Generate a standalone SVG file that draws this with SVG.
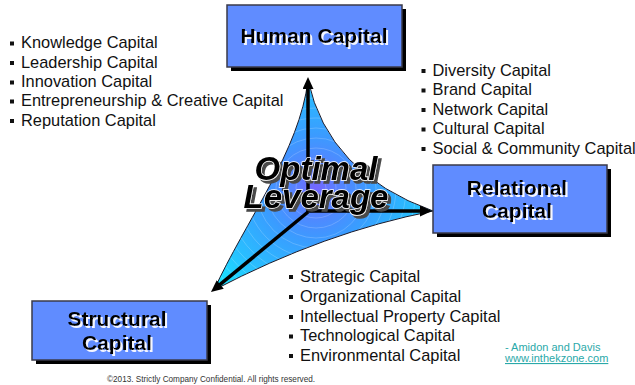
<svg xmlns="http://www.w3.org/2000/svg" width="635" height="385" viewBox="0 0 635 385">
  <defs>
    <style>
      .box { fill: #608cff; stroke: #3a3a4a; stroke-width: 1.5; }
      .boxshadow { fill: #000; }
      .label { font-family: "Liberation Sans", Arial, sans-serif; font-weight: bold; font-size: 21px; text-anchor: middle; fill: #000; filter: url(#glow); }
      .item { font-family: "Liberation Sans", Arial, sans-serif; font-size: 16.4px; fill: #111; }
      .dot { fill: #111; }
      .arrow { stroke: #000; stroke-width: 3.5; fill: none; marker-end: url(#head); }
      .big { font-family: "Liberation Sans", Arial, sans-serif; font-weight: bold; font-style: italic; font-size: 33px; text-anchor: middle; fill: #000; stroke: #fff; stroke-width: 1.4; paint-order: stroke; filter: url(#shade); }
      .ring { fill: none; stroke: #ffffff; stroke-opacity: 0.28; stroke-width: 0.7; }
      .credit { font-family: "Liberation Sans", Arial, sans-serif; font-size: 11px; fill: #2aa9a9; }
      .foot { font-family: "Liberation Sans", Arial, sans-serif; font-size: 8.2px; fill: #333; }
    </style>
    <radialGradient id="core" gradientUnits="userSpaceOnUse" cx="316" cy="188" r="135">
      <stop offset="0" stop-color="#7466ff"/>
      <stop offset="0.15" stop-color="#5a80ff"/>
      <stop offset="0.4" stop-color="#3a9cff"/>
      <stop offset="0.75" stop-color="#28c0ff"/>
      <stop offset="1" stop-color="#18e2ff"/>
    </radialGradient>
    <!-- dark drop shadow behind the centre caption -->
    <filter id="shade" x="-10%" y="-20%" width="130%" height="150%">
      <feOffset in="SourceAlpha" dx="3" dy="3" result="off"/>
      <feFlood flood-color="#4a4a4a"/>
      <feComposite in2="off" operator="in" result="sh"/>
      <feMerge>
        <feMergeNode in="sh"/>
        <feMergeNode in="SourceGraphic"/>
      </feMerge>
    </filter>
    <!-- light offset behind the box labels -->
    <filter id="glow" x="-10%" y="-20%" width="130%" height="150%">
      <feOffset in="SourceAlpha" dx="1.5" dy="1.5" result="off"/>
      <feFlood flood-color="#f4f6ff"/>
      <feComposite in2="off" operator="in" result="sh"/>
      <feMerge>
        <feMergeNode in="sh"/>
        <feMergeNode in="SourceGraphic"/>
      </feMerge>
    </filter>
    <clipPath id="blade">
      <path d="M308,80 Q328,173 433,211 Q325,232 214,290 C245,222 300,150 308,80 Z"/>
    </clipPath>
    <marker id="head" viewBox="0 0 12 11" refX="6" refY="5.5" markerWidth="12" markerHeight="11" markerUnits="userSpaceOnUse" orient="auto">
      <path d="M0,0 L12,5.5 L0,11 Z" fill="#000"/>
    </marker>
  </defs>

  <rect width="635" height="385" fill="#ffffff"/>

  <!-- curved three-pointed centre shape -->
  <g id="leverage-shape">
    <path d="M308,80 Q328,173 433,211 Q325,232 214,290 C245,222 300,150 308,80 Z" fill="url(#core)" stroke="#1a1a2a" stroke-width="1"/>
    <g clip-path="url(#blade)">
      <circle class="ring" cx="316" cy="188" r="10"/>
      <circle class="ring" cx="316" cy="188" r="20"/>
      <circle class="ring" cx="316" cy="188" r="30"/>
      <circle class="ring" cx="316" cy="188" r="40"/>
      <circle class="ring" cx="316" cy="188" r="50"/>
      <circle class="ring" cx="316" cy="188" r="60"/>
      <circle class="ring" cx="316" cy="188" r="70"/>
      <circle class="ring" cx="316" cy="188" r="80"/>
      <circle class="ring" cx="316" cy="188" r="90"/>
      <circle class="ring" cx="316" cy="188" r="100"/>
      <circle class="ring" cx="316" cy="188" r="110"/>
      <circle class="ring" cx="316" cy="188" r="120"/>
      <circle class="ring" cx="316" cy="188" r="130"/>
    </g>
  </g>

  <!-- arrows from the centre to the three capitals -->
  <g id="connectors">
    <line class="arrow" x1="308" y1="212" x2="308" y2="83"/>
    <line class="arrow" x1="308" y1="211" x2="426" y2="211"/>
    <line class="arrow" x1="308" y1="212" x2="215.6" y2="288.2"/>
  </g>

  <g id="human-capital">
    <rect class="boxshadow" x="231" y="9" width="175" height="62"/>
    <rect class="box" x="227" y="5" width="175" height="62"/>
    <text class="label" x="314" y="43">Human Capital</text>
  </g>

  <g id="relational-capital">
    <rect class="boxshadow" x="437" y="169" width="174" height="68"/>
    <rect class="box" x="433" y="165" width="174" height="68"/>
    <text class="label" x="517" y="195">Relational</text>
    <text class="label" x="517" y="218">Capital</text>
  </g>

  <g id="structural-capital">
    <rect class="boxshadow" x="36" y="305" width="175" height="59"/>
    <rect class="box" x="32" y="301" width="175" height="59"/>
    <text class="label" x="117" y="326">Structural</text>
    <text class="label" x="117" y="350">Capital</text>
  </g>

  <!-- human capital list -->
  <g id="human-list">
    <rect class="dot" x="10" y="41.5" width="4" height="4"/>
    <text class="item" x="21" y="48.3">Knowledge Capital</text>
    <rect class="dot" x="10" y="61" width="4" height="4"/>
    <text class="item" x="21" y="67.7">Leadership Capital</text>
    <rect class="dot" x="10" y="80.5" width="4" height="4"/>
    <text class="item" x="21" y="87.1">Innovation Capital</text>
    <rect class="dot" x="10" y="99.5" width="4" height="4"/>
    <text class="item" x="21" y="106.3">Entrepreneurship &amp; Creative Capital</text>
    <rect class="dot" x="10" y="119" width="4" height="4"/>
    <text class="item" x="21" y="125.7">Reputation Capital</text>
  </g>

  <!-- relational capital list -->
  <g id="relational-list">
    <rect class="dot" x="421.5" y="69" width="4" height="4"/>
    <text class="item" x="432.5" y="75.5">Diversity Capital</text>
    <rect class="dot" x="421.5" y="88.5" width="4" height="4"/>
    <text class="item" x="432.5" y="95">Brand Capital</text>
    <rect class="dot" x="421.5" y="108" width="4" height="4"/>
    <text class="item" x="432.5" y="114.5">Network Capital</text>
    <rect class="dot" x="421.5" y="127.5" width="4" height="4"/>
    <text class="item" x="432.5" y="134">Cultural Capital</text>
    <rect class="dot" x="421.5" y="147" width="4" height="4"/>
    <text class="item" x="432.5" y="153.5">Social &amp; Community Capital</text>
  </g>

  <!-- structural capital list -->
  <g id="structural-list">
    <rect class="dot" x="289" y="275" width="4" height="4"/>
    <text class="item" x="300" y="281.7">Strategic Capital</text>
    <rect class="dot" x="289" y="295" width="4" height="4"/>
    <text class="item" x="300" y="301.7">Organizational Capital</text>
    <rect class="dot" x="289" y="315" width="4" height="4"/>
    <text class="item" x="300" y="321.7">Intellectual Property Capital</text>
    <rect class="dot" x="289" y="334.5" width="4" height="4"/>
    <text class="item" x="300" y="341.2">Technological Capital</text>
    <rect class="dot" x="289" y="354" width="4" height="4"/>
    <text class="item" x="300" y="360.7">Environmental Capital</text>
  </g>

  <!-- centre caption -->
  <g id="optimal-leverage">
    <text class="big" x="316" y="180">Optimal</text>
    <text class="big" x="316" y="208">Leverage</text>
  </g>

  <g id="credit">
    <text class="credit" x="505" y="351">- Amidon and Davis</text>
    <text class="credit" x="505" y="362" fill="#1f9a9a" text-decoration="underline">www.inthekzone.com</text>
  </g>

  <text class="foot" x="107" y="381.7">©2013. Strictly Company Confidential. All rights reserved.</text>
</svg>
